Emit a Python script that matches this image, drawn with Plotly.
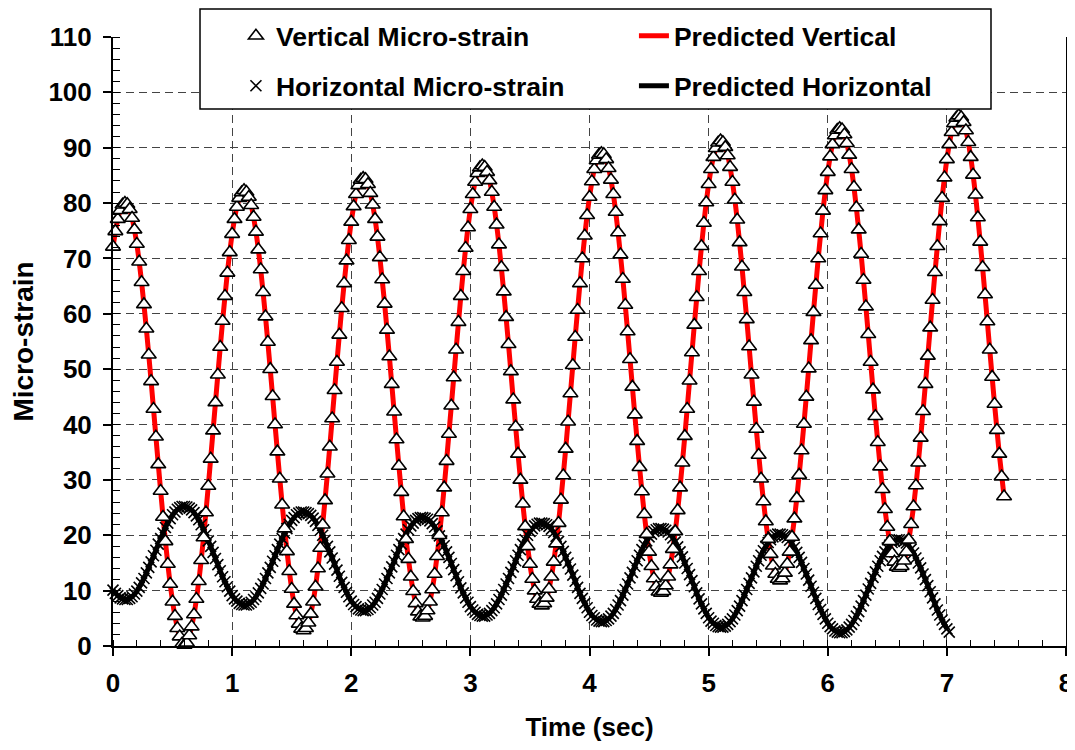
import plotly.graph_objects as go

# ---------------- data ----------------
t_start = 0.0
t_step_obs = 0.02      # sampling step of measured points (sec)
t_step_pred = 0.04     # step of predicted curves (sec)

vertical_obs = [
    72.1, 74.9, 77.1, 78.7, 79.7, 80.0, 79.8, 78.9, 77.3, 75.2,
    72.6, 69.4, 65.7, 61.7, 57.3, 52.6, 47.8, 42.8, 37.8, 32.8,
    28.0, 23.3, 18.9, 14.8, 11.2, 8.0, 5.4, 3.2, 1.7, 0.4,
    0.2, 0.6, 1.9, 3.5, 5.7, 8.5, 11.7, 15.5, 19.6, 24.1,
    28.9, 33.8, 38.9, 44.0, 49.0, 54.0, 58.7, 63.2, 67.4, 71.1,
    74.4, 77.1, 79.3, 80.9, 81.9, 82.3, 82.0, 81.1, 79.6, 77.5,
    74.8, 71.6, 68.0, 63.9, 59.5, 54.9, 50.0, 45.1, 40.0, 35.1,
    30.2, 25.5, 21.2, 17.1, 13.5, 10.3, 7.6, 5.5, 4.0, 3.1,
    2.8, 3.2, 4.2, 5.8, 8.0, 10.7, 14.0, 17.7, 21.9, 26.3,
    31.1, 36.0, 41.1, 46.2, 51.3, 56.2, 61.0, 65.5, 69.6, 73.3,
    76.6, 79.4, 81.6, 83.2, 84.2, 84.5, 84.3, 83.4, 81.8, 79.7,
    77.1, 73.9, 70.2, 66.2, 61.8, 57.1, 52.3, 47.3, 42.3, 37.3,
    32.5, 27.8, 23.4, 19.3, 15.7, 12.5, 9.9, 7.7, 6.2, 5.3,
    5.1, 5.4, 6.4, 8.0, 10.2, 13.0, 16.2, 20.0, 24.1, 28.6,
    33.4, 38.3, 43.4, 48.5, 53.5, 58.5, 63.2, 67.7, 71.9, 75.6,
    78.9, 81.6, 83.8, 85.4, 86.4, 86.8, 86.5, 85.6, 84.1, 82.0,
    79.3, 76.1, 72.5, 68.4, 64.0, 59.4, 54.5, 49.6, 44.5, 39.6,
    34.7, 30.0, 25.7, 21.6, 18.0, 14.8, 12.1, 10.0, 8.5, 7.6,
    7.3, 7.7, 8.7, 10.3, 12.5, 15.2, 18.5, 22.2, 26.4, 30.8,
    35.6, 40.5, 45.6, 50.7, 55.8, 60.7, 65.5, 70.0, 74.1, 77.8,
    81.1, 83.9, 86.1, 87.7, 88.7, 89.0, 88.8, 87.9, 86.3, 84.2,
    81.6, 78.4, 74.7, 70.7, 66.3, 61.6, 56.8, 51.8, 46.8, 41.8,
    37.0, 32.3, 27.9, 23.8, 20.2, 17.0, 14.4, 12.2, 10.7, 9.8,
    9.6, 9.9, 10.9, 12.5, 14.7, 17.5, 20.7, 24.5, 28.6, 33.1,
    37.9, 42.8, 47.9, 53.0, 58.0, 63.0, 67.7, 72.2, 76.4, 80.1,
    83.4, 86.1, 88.3, 89.9, 90.9, 91.3, 91.0, 90.1, 88.6, 86.5,
    83.8, 80.6, 77.0, 72.9, 68.5, 63.9, 59.0, 54.1, 49.0, 44.1,
    39.2, 34.5, 30.2, 26.1, 22.5, 19.3, 16.6, 14.5, 13.0, 12.1,
    11.8, 12.2, 13.2, 14.8, 17.0, 19.7, 23.0, 26.7, 30.9, 35.3,
    40.1, 45.0, 50.1, 55.2, 60.3, 65.2, 70.0, 74.5, 78.6, 82.3,
    85.6, 88.4, 90.6, 92.2, 93.2, 93.5, 93.3, 92.4, 90.8, 88.7,
    86.1, 82.9, 79.2, 75.2, 70.8, 66.1, 61.3, 56.3, 51.3, 46.3,
    41.5, 36.8, 32.4, 28.3, 24.7, 21.5, 18.9, 16.7, 15.2, 14.3,
    14.1, 14.4, 15.4, 17.0, 19.2, 22.0, 25.2, 29.0, 33.1, 37.6,
    42.4, 47.3, 52.4, 57.5, 62.5, 67.5, 72.2, 76.7, 80.9, 84.6,
    87.9, 90.6, 92.8, 94.4, 95.4, 95.8, 95.5, 94.6, 93.1, 91.0,
    88.3, 85.1, 81.5, 77.4, 73.0, 68.4, 63.5, 58.6, 53.5, 48.6,
    43.7, 39.0, 34.7, 30.6, 27.0,
]

horizontal_obs = [
    10.1, 9.5, 9.1, 8.7, 8.5, 8.4, 8.4, 8.6, 8.9, 9.4,
    9.9, 10.6, 11.4, 12.2, 13.2, 14.2, 15.2, 16.3, 17.3, 18.4,
    19.4, 20.4, 21.4, 22.2, 23.0, 23.7, 24.2, 24.7, 25.0, 25.2,
    25.2, 25.1, 24.9, 24.6, 24.1, 23.5, 22.8, 21.9, 21.0, 20.1,
    19.0, 18.0, 16.9, 15.8, 14.7, 13.6, 12.5, 11.6, 10.7, 9.9,
    9.1, 8.5, 8.1, 7.7, 7.5, 7.4, 7.4, 7.6, 7.9, 8.4,
    8.9, 9.6, 10.4, 11.2, 12.2, 13.2, 14.2, 15.3, 16.3, 17.4,
    18.4, 19.4, 20.4, 21.2, 22.0, 22.7, 23.2, 23.7, 24.0, 24.2,
    24.2, 24.1, 23.9, 23.6, 23.1, 22.5, 21.8, 20.9, 20.0, 19.1,
    18.0, 17.0, 15.9, 14.8, 13.7, 12.6, 11.5, 10.6, 9.7, 8.9,
    8.1, 7.5, 7.1, 6.7, 6.5, 6.4, 6.4, 6.6, 6.9, 7.4,
    7.9, 8.6, 9.4, 10.2, 11.2, 12.2, 13.2, 14.3, 15.3, 16.4,
    17.4, 18.4, 19.4, 20.2, 21.0, 21.7, 22.2, 22.7, 23.0, 23.2,
    23.2, 23.1, 22.9, 22.6, 22.1, 21.5, 20.8, 19.9, 19.0, 18.1,
    17.0, 16.0, 14.9, 13.8, 12.7, 11.6, 10.5, 9.6, 8.7, 7.9,
    7.1, 6.5, 6.1, 5.7, 5.5, 5.4, 5.4, 5.6, 5.9, 6.4,
    6.9, 7.6, 8.4, 9.2, 10.2, 11.2, 12.2, 13.3, 14.3, 15.4,
    16.4, 17.4, 18.4, 19.2, 20.0, 20.7, 21.2, 21.7, 22.0, 22.2,
    22.2, 22.1, 21.9, 21.6, 21.1, 20.5, 19.8, 18.9, 18.0, 17.1,
    16.0, 15.0, 13.9, 12.8, 11.7, 10.6, 9.5, 8.6, 7.7, 6.9,
    6.1, 5.5, 5.1, 4.7, 4.5, 4.4, 4.4, 4.6, 4.9, 5.4,
    5.9, 6.6, 7.4, 8.2, 9.2, 10.2, 11.2, 12.3, 13.3, 14.4,
    15.4, 16.4, 17.4, 18.2, 19.0, 19.7, 20.2, 20.7, 21.0, 21.2,
    21.2, 21.1, 20.9, 20.6, 20.1, 19.5, 18.8, 17.9, 17.0, 16.1,
    15.0, 14.0, 12.9, 11.8, 10.7, 9.6, 8.5, 7.6, 6.7, 5.9,
    5.1, 4.5, 4.1, 3.7, 3.5, 3.4, 3.4, 3.6, 3.9, 4.4,
    4.9, 5.6, 6.4, 7.2, 8.2, 9.2, 10.2, 11.3, 12.3, 13.4,
    14.4, 15.4, 16.4, 17.2, 18.0, 18.7, 19.2, 19.7, 20.0, 20.2,
    20.2, 20.1, 19.9, 19.6, 19.1, 18.5, 17.8, 16.9, 16.0, 15.1,
    14.0, 13.0, 11.9, 10.8, 9.7, 8.6, 7.5, 6.6, 5.7, 4.9,
    4.1, 3.5, 3.1, 2.7, 2.5, 2.4, 2.4, 2.6, 2.9, 3.4,
    3.9, 4.6, 5.4, 6.2, 7.2, 8.2, 9.2, 10.3, 11.3, 12.4,
    13.4, 14.4, 15.4, 16.2, 17.0, 17.7, 18.2, 18.7, 19.0, 19.2,
    19.2, 19.1, 18.9, 18.6, 18.1, 17.5, 16.8, 15.9, 15.0, 14.1,
    13.0, 12.0, 10.9, 9.8, 8.7, 7.6, 6.5, 5.6, 4.7, 3.9,
    3.1, 2.5,
]

vertical_pred = [
    72.1, 77.1, 79.7, 79.8, 77.3, 72.6, 65.7, 57.3, 47.8, 37.8, 28.0, 18.9, 11.2,
    5.4, 1.7, 0.6, 1.9, 5.7, 11.7, 19.6, 28.9, 38.9, 49.0, 58.7, 67.4,
    74.4, 79.3, 81.9, 82.0, 79.6, 74.8, 68.0, 59.5, 50.0, 40.0, 30.2, 21.2, 13.5,
    7.6, 4.0, 2.8, 4.2, 8.0, 14.0, 21.9, 31.1, 41.1, 51.3, 61.0, 69.6,
    76.6, 81.6, 84.2, 84.3, 81.8, 77.1, 70.2, 61.8, 52.3, 42.3, 32.5, 23.4, 15.7,
    9.9, 6.2, 5.1, 6.4, 10.2, 16.2, 24.1, 33.4, 43.4, 53.5, 63.2, 71.9,
    78.9, 83.8, 86.4, 86.5, 84.1, 79.3, 72.5, 64.0, 54.5, 44.5, 34.7, 25.7, 18.0,
    12.1, 8.5, 7.3, 8.7, 12.5, 18.5, 26.4, 35.6, 45.6, 55.8, 65.5, 74.1,
    81.1, 86.1, 88.7, 88.8, 86.3, 81.6, 74.7, 66.3, 56.8, 46.8, 37.0, 27.9, 20.2,
    14.4, 10.7, 9.6, 10.9, 14.7, 20.7, 28.6, 37.9, 47.9, 58.0, 67.7, 76.4,
    83.4, 88.3, 90.9, 91.0, 88.6, 83.8, 77.0, 68.5, 59.0, 49.0, 39.2, 30.2, 22.5,
    16.6, 13.0, 11.8, 13.2, 17.0, 23.0, 30.9, 40.1, 50.1, 60.3, 70.0, 78.6,
    85.6, 90.6, 93.2, 93.3, 90.8, 86.1, 79.2, 70.8, 61.3, 51.3, 41.5, 32.4, 24.7,
    18.9, 15.2, 14.1, 15.4, 19.2, 25.2, 33.1, 42.4, 52.4, 62.5, 72.2, 80.9,
    87.9, 92.8, 95.4, 95.5, 93.1, 88.3, 81.5, 73.0, 63.5, 53.5, 43.7, 34.7, 27.0,
]

horizontal_pred = [
    10.1, 9.1, 8.5, 8.4, 8.9, 9.9, 11.4, 13.2, 15.2, 17.3, 19.4, 21.4, 23.0,
    24.2, 25.0, 25.2, 24.9, 24.1, 22.8, 21.0, 19.0, 16.9, 14.7, 12.5, 10.7,
    9.1, 8.1, 7.5, 7.4, 7.9, 8.9, 10.4, 12.2, 14.2, 16.3, 18.4, 20.4, 22.0,
    23.2, 24.0, 24.2, 23.9, 23.1, 21.8, 20.0, 18.0, 15.9, 13.7, 11.5, 9.7,
    8.1, 7.1, 6.5, 6.4, 6.9, 7.9, 9.4, 11.2, 13.2, 15.3, 17.4, 19.4, 21.0,
    22.2, 23.0, 23.2, 22.9, 22.1, 20.8, 19.0, 17.0, 14.9, 12.7, 10.5, 8.7,
    7.1, 6.1, 5.5, 5.4, 5.9, 6.9, 8.4, 10.2, 12.2, 14.3, 16.4, 18.4, 20.0,
    21.2, 22.0, 22.2, 21.9, 21.1, 19.8, 18.0, 16.0, 13.9, 11.7, 9.5, 7.7,
    6.1, 5.1, 4.5, 4.4, 4.9, 5.9, 7.4, 9.2, 11.2, 13.3, 15.4, 17.4, 19.0,
    20.2, 21.0, 21.2, 20.9, 20.1, 18.8, 17.0, 15.0, 12.9, 10.7, 8.5, 6.7,
    5.1, 4.1, 3.5, 3.4, 3.9, 4.9, 6.4, 8.2, 10.2, 12.3, 14.4, 16.4, 18.0,
    19.2, 20.0, 20.2, 19.9, 19.1, 17.8, 16.0, 14.0, 11.9, 9.7, 7.5, 5.7,
    4.1, 3.1, 2.5, 2.4, 2.9, 3.9, 5.4, 7.2, 9.2, 11.3, 13.4, 15.4, 17.0,
    18.2, 19.0, 19.2, 18.9, 18.1, 16.8, 15.0, 13.0, 10.9, 8.7, 6.5, 4.7,
    3.1,
]

x_tick_vals = [0, 1, 2, 3, 4, 5, 6, 7, 8]
y_tick_vals = [0, 10, 20, 30, 40, 50, 60, 70, 80, 90, 100, 110]

# ---------------- figure ----------------
FONT = 'Arial, "Liberation Sans", sans-serif'

fig = go.Figure()

fig.add_trace(go.Scatter(
    y=vertical_pred, x0=t_start, dx=t_step_pred, mode="lines",
    line=dict(color="#ff0000", width=5, shape="spline", smoothing=0.6),
    name="Predicted Vertical", legend="legend", legendrank=2))

fig.add_trace(go.Scatter(
    y=horizontal_pred, x0=t_start, dx=t_step_pred, mode="lines",
    line=dict(color="#000000", width=5, shape="spline", smoothing=0.6),
    name="Predicted Horizontal", legend="legend2", legendrank=2))

fig.add_trace(go.Scatter(
    y=horizontal_obs, x0=t_start, dx=t_step_obs, mode="markers",
    marker=dict(symbol="x-thin", size=11, color="black",
                line=dict(color="black", width=1.6)),
    cliponaxis=False,
    name="Horizontal Micro-strain", legend="legend2", legendrank=1))

fig.add_trace(go.Scatter(
    y=vertical_obs, x0=t_start, dx=t_step_obs, mode="markers",
    marker=dict(symbol="triangle-up", size=13, color="white",
                line=dict(color="black", width=1.6)),
    cliponaxis=False,
    name="Vertical Micro-strain", legend="legend", legendrank=1))

legend_common = dict(
    orientation="h", xanchor="left", yanchor="middle",
    entrywidth=353, entrywidthmode="pixels",
    bgcolor="rgba(0,0,0,0)", borderwidth=0,
    font=dict(family=FONT, size=26.5, color="black", weight="bold"),
)

# The page body adds an 8 px margin, so the figure is offset by 8 px
# and sized so that it ends at the window edges.
fig.update_layout(
    width=1067, height=734,
    margin=dict(l=105, r=9, t=29, b=96, autoexpand=False),
    paper_bgcolor="white", plot_bgcolor="white",
    font=dict(family=FONT, size=26, color="black", weight="bold"),
    showlegend=True,
    legend=dict(x=0.129, y=1.0016, **legend_common),
    legend2=dict(x=0.129, y=0.9195, **legend_common),
    shapes=[dict(type="rect", xref="paper", yref="paper",
                 x0=0.0913, x1=0.9213, y0=0.8818, y1=1.046,
                 line=dict(color="black", width=1.5),
                 fillcolor="white", layer="above")],
)

fig.update_xaxes(
    range=[0, 8], tickvals=x_tick_vals, automargin=False,
    ticks="outside", ticklen=8, tickwidth=1.5, tickcolor="black",
    showline=True, linecolor="black", linewidth=2,
    showgrid=True, gridcolor="#444444", gridwidth=1, griddash="8px,5px",
    zeroline=False,
    minor=dict(dtick=0.2, ticks="inside", ticklen=6, tickwidth=1,
               tickcolor="black", showgrid=False),
    tickfont=dict(family=FONT, size=26, color="black", weight="bold"),
    ticklabelstandoff=5, ticklabeloverflow="allow",
    title=dict(text="Time (sec)", standoff=28,
               font=dict(family=FONT, size=26, color="black", weight="bold")),
)

fig.update_yaxes(
    range=[0, 110], tickvals=y_tick_vals, automargin=False,
    ticks="outside", ticklen=8, tickwidth=1.5, tickcolor="black",
    showline=True, linecolor="black", linewidth=2, mirror=True,
    showgrid=True, gridcolor="#444444", gridwidth=1, griddash="8px,5px",
    zeroline=False,
    minor=dict(dtick=2, ticks="inside", ticklen=7, tickwidth=1,
               tickcolor="black", showgrid=False),
    tickfont=dict(family=FONT, size=26, color="black", weight="bold"),
    ticklabelstandoff=6,
    title=dict(text="Micro-strain", standoff=8,
               font=dict(family=FONT, size=28, color="black", weight="bold")),
)

fig.write_html("out.html")
